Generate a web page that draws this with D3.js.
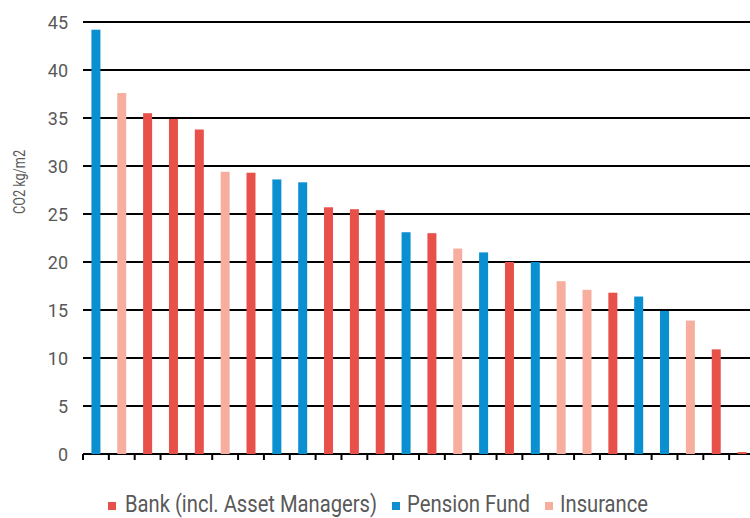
<!DOCTYPE html>
<html>
	<head>
		<meta charset="utf-8">
		<title>CO2 kg/m2</title>
		<style>
			body { margin: 0; background: #fff; }
			svg { display: block; }
			text { font-family: "Roboto", sans-serif; fill: #595959; }
			.tick text { font-size: 18px; }
			.ylabel { font-size: 16px; }
			.legend text { font-size: 23px; }
		</style>
	</head>
	<body>
		<div id="chart"></div>

		<script src="https://cdn.jsdelivr.net/npm/d3@7"></script>
		<script>
			// one entry per bar, left to right
			var types = ["Pension Fund", "Insurance", "Bank", "Bank", "Bank", "Insurance", "Bank", "Pension Fund",
				"Pension Fund", "Bank", "Bank", "Bank", "Pension Fund", "Bank", "Insurance", "Pension Fund",
				"Bank", "Pension Fund", "Insurance", "Insurance", "Bank", "Pension Fund", "Pension Fund",
				"Insurance", "Bank", "Bank"]
			var values = [44.2, 37.6, 35.5, 34.9, 33.8, 29.4, 29.3, 28.6, 28.3, 25.7, 25.5, 25.4, 23.1, 23.0,
				21.4, 21.0, 20.0, 20.0, 18.0, 17.1, 16.8, 16.4, 14.9, 13.9, 10.9, 0.2]
			var yTicks = [0, 5, 10, 15, 20, 25, 30, 35, 40, 45]
			var legendNames = ["Bank (incl. Asset Managers)", "Pension Fund", "Insurance"]
			var legendLabels = ["Bank", "Pension Fund", "Insurance"]

			var width = 750, height = 518

			var color = d3.scaleOrdinal()
				.domain(legendLabels)
				.range(["#e8504a", "#0a8fd0", "#f7ae9e"])

			var svg = d3.select("#chart").append("svg")
				.attr("width", width)
				.attr("height", height)

			var x = d3.scaleBand()
				.domain(d3.range(values.length))
				.range([83, 755])

			var y = d3.scaleLinear()
				.domain([0, 45])
				.range([454, 22])

			// gridlines
			svg.append("g").selectAll("line")
				.data(yTicks)
				.enter()
				.append("line")
				.attr("x1", 83).attr("x2", width)
				.attr("y1", function(d) { return y(d) }).attr("y2", function(d) { return y(d) })
				.attr("stroke", "#000").attr("stroke-width", 2.2)

			// tick labels
			svg.append("g")
				.attr("transform", "translate(68,0)")
				.call(d3.axisLeft(y).tickValues(yTicks).tickSize(0).tickPadding(0))
				.call(function(g) {
					g.select(".domain").remove()
					g.selectAll(".tick text").attr("dy", "0.35em").attr("fill", "#595959")
				})

			// bars
			svg.append("g").selectAll("rect")
				.data(values)
				.enter()
				.append("rect")
				.attr("x", function(d, i) { return x(i) + x.bandwidth() / 2 - 4.5 })
				.attr("width", 9)
				.attr("y", function(d) { return y(d) })
				.attr("height", function(d) { return y(0) - y(d) })
				.attr("fill", function(d, i) { return color(types[i]) })

			// x axis ticks at band edges
			var edges = d3.range(values.length + 1).map(function(i) { return 83 + i * x.step() })
			svg.append("g").selectAll("line")
				.data(edges)
				.enter()
				.append("line")
				.attr("x1", function(d) { return d }).attr("x2", function(d) { return d })
				.attr("y1", y(0)).attr("y2", y(0) + 6)
				.attr("stroke", "#000").attr("stroke-width", 2)

			svg.append("text")
				.attr("class", "ylabel")
				.attr("text-anchor", "middle")
				.attr("textLength", 64)
				.attr("lengthAdjust", "spacingAndGlyphs")
				.attr("transform", "translate(25,182) rotate(-90)")
				.text("CO2 kg/m2")

			// legend
			var legendX = [108, 392, 545]
			var legendW = [252, 123, 88]
			var legend = svg.append("g").attr("class", "legend")
				.selectAll("g")
				.data(legendNames)
				.enter()
				.append("g")
				.attr("transform", function(d, i) { return "translate(" + legendX[i] + ",0)" })
			legend.append("rect")
				.attr("x", 0).attr("y", 502)
				.attr("width", 8).attr("height", 8)
				.attr("fill", function(d, i) { return color(legendLabels[i]) })
			legend.append("text")
				.attr("x", function(d, i) { return i === 0 ? 17 : 15 })
				.attr("y", 512)
				.attr("textLength", function(d, i) { return legendW[i] })
				.attr("lengthAdjust", "spacingAndGlyphs")
				.text(function(d) { return d })
		</script>
	</body>
</html>
